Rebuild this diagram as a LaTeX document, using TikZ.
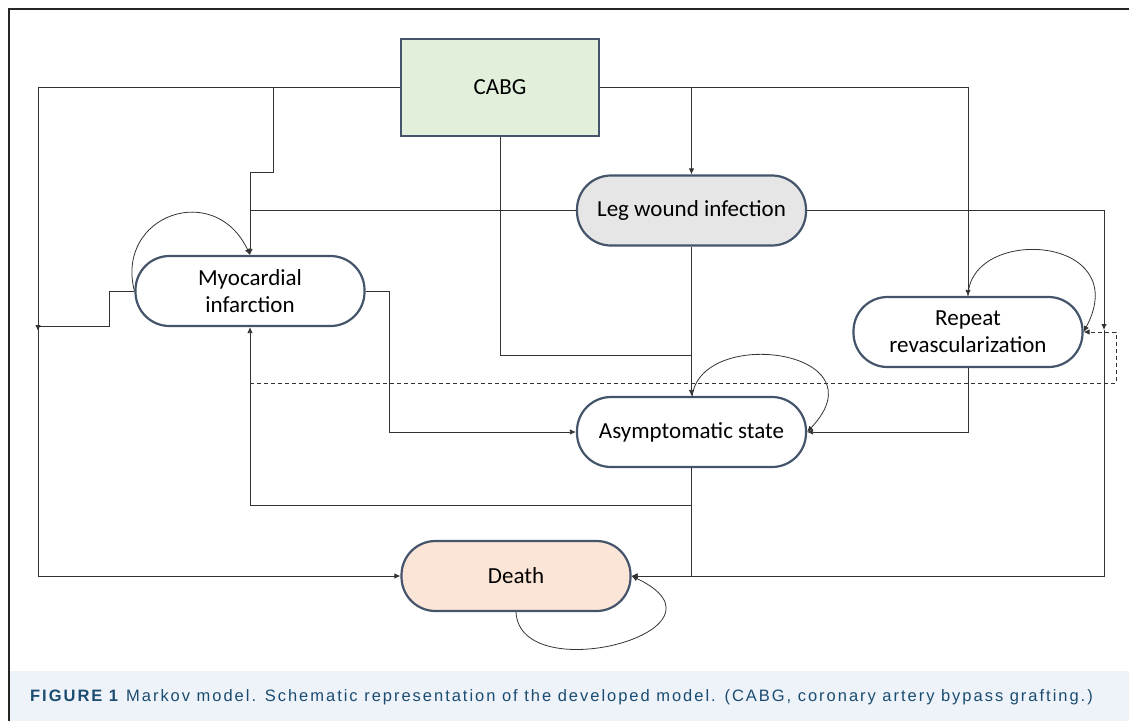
\documentclass[tikz,border=0pt]{standalone}
\usepackage{fontspec}
\setmainfont{Carlito}
\newfontfamily\capfont[LetterSpace=12]{Liberation Sans}
\usetikzlibrary{arrows.meta}
\definecolor{nodeb}{HTML}{44546A}
\definecolor{cabgfill}{HTML}{E2EFDA}
\definecolor{legfill}{HTML}{E7E6E6}
\definecolor{deathfill}{HTML}{FBE5D6}
\definecolor{capbg}{HTML}{EEF3FA}
\definecolor{capblue}{HTML}{1B4C70}
\definecolor{linec}{HTML}{333333}
\begin{document}
\begin{tikzpicture}[x=1pt,y=-1pt,
  conn/.style={draw=linec, line width=0.8pt},
  arr/.style={-{Latex[length=6pt,width=5.5pt]}},
  state/.style={draw=nodeb, line width=2.2pt, rounded corners=34pt, minimum width=229pt, minimum height=70pt, font=\fontsize{23}{27}\selectfont, align=center, inner sep=0pt, fill=white},
  box/.style={draw=nodeb, line width=2.2pt, minimum width=198pt, minimum height=97pt, font=\fontsize{23}{27}\selectfont, fill=cabgfill, inner sep=0pt}]
\useasboundingbox (0,0) rectangle (1129,721);
\fill[capbg] (10,671) rectangle (1129,721);
\draw[line width=2pt, draw=black!85] (9,721) -- (9,9) -- (1129,9);

% nodes
\node[box] (cabg) at (500,87.5) {CABG};
\node[state, fill=legfill] (leg) at (691.5,210.5) {Leg wound infection};
\node[state] (mi) at (250,291) {Myocardial\\infarction};
\node[state] (rr) at (968,332) {Repeat\\revascularization};
\node[state] (as) at (691.5,432) {Asymptomatic state};
\node[state, fill=deathfill] (death) at (516,576) {Death};

% junction coordinates
\coordinate (jA) at (273,87.5);
\coordinate (jB) at (691.5,355);
\coordinate (jC) at (691.5,505);
\coordinate (jD) at (1104,330);
\coordinate (jE) at (250,383);
\coordinate (jF) at (38,326);

% connectors
\draw[conn,arr] (cabg.west) -- (38,87.5) |- (death.west);
\draw[conn,arr] (mi.west) -- (109,291) -- (109,326) -- (jF) -- (38,331);
\draw[conn,arr] (jA) -- (273,172) -- (250,172) -- (mi.north);
\draw[conn] (leg.west) -- (250,210.5);
\draw[conn,arr] (mi.west) .. controls (115,215) and (215,180) .. (mi.north);
\draw[conn,arr] (cabg.east) -| (rr.north);
\draw[conn,arr] (leg.north |- cabg.east) -- (leg.north);
\draw[conn] (cabg.south) |- (jB);
\draw[conn,arr] (leg.south) -- (as.north);
\draw[conn,arr] (leg.east) -| (jD);
\draw[conn,arr] (jD) |- (death.east);
\draw[conn,arr] (mi.east) -- (389,291) |- (as.west);
\draw[conn,arr] (as.south) |- (death.east);
\draw[conn,arr] (jC) -| (mi.south);
\draw[conn,arr] (rr.south) |- (as.east);
\draw[conn,arr] (692,397) .. controls (700,325) and (885,350) .. (as.east);
\draw[conn,arr] (rr.north) .. controls (970,225) and (1135,235) .. (rr.east);
\draw[conn,arr] (death.south) .. controls (520,690) and (745,630) .. (death.east);
\draw[conn,arr,dash pattern=on 4pt off 3pt] (jE) -- (1116,383) -- (1116,332) -- (rr.east);

% caption
\node[anchor=west, inner sep=0pt, text=capblue, font=\capfont\fontsize{16.5}{19}\selectfont] (cap) at (30,697) {\textbf{FIGURE 1}\hspace{6pt}Markov model. Schematic representation of the developed model. (CABG, coronary artery bypass grafting.)};
\end{tikzpicture}
\end{document}
